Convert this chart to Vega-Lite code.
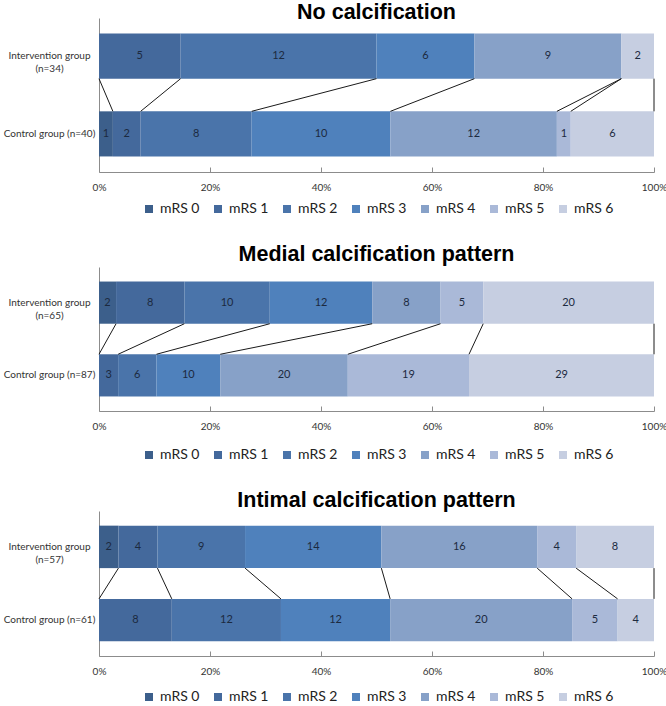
{
  "$schema": "https://vega.github.io/schema/vega-lite/v6.json",
  "padding": {"left": 0, "top": 1, "right": 0, "bottom": 0},
  "background": "white",
  "datasets": {
    "mrs": [
      {"panel": "No calcification", "group": "Intervention group (n=34)", "mrs": "mRS 0", "n": 0},
      {"panel": "No calcification", "group": "Intervention group (n=34)", "mrs": "mRS 1", "n": 5},
      {"panel": "No calcification", "group": "Intervention group (n=34)", "mrs": "mRS 2", "n": 12},
      {"panel": "No calcification", "group": "Intervention group (n=34)", "mrs": "mRS 3", "n": 6},
      {"panel": "No calcification", "group": "Intervention group (n=34)", "mrs": "mRS 4", "n": 9},
      {"panel": "No calcification", "group": "Intervention group (n=34)", "mrs": "mRS 5", "n": 0},
      {"panel": "No calcification", "group": "Intervention group (n=34)", "mrs": "mRS 6", "n": 2},
      {"panel": "No calcification", "group": "Control group (n=40)", "mrs": "mRS 0", "n": 1},
      {"panel": "No calcification", "group": "Control group (n=40)", "mrs": "mRS 1", "n": 2},
      {"panel": "No calcification", "group": "Control group (n=40)", "mrs": "mRS 2", "n": 8},
      {"panel": "No calcification", "group": "Control group (n=40)", "mrs": "mRS 3", "n": 10},
      {"panel": "No calcification", "group": "Control group (n=40)", "mrs": "mRS 4", "n": 12},
      {"panel": "No calcification", "group": "Control group (n=40)", "mrs": "mRS 5", "n": 1},
      {"panel": "No calcification", "group": "Control group (n=40)", "mrs": "mRS 6", "n": 6},
      {"panel": "Medial calcification pattern", "group": "Intervention group (n=65)", "mrs": "mRS 0", "n": 2},
      {"panel": "Medial calcification pattern", "group": "Intervention group (n=65)", "mrs": "mRS 1", "n": 8},
      {"panel": "Medial calcification pattern", "group": "Intervention group (n=65)", "mrs": "mRS 2", "n": 10},
      {"panel": "Medial calcification pattern", "group": "Intervention group (n=65)", "mrs": "mRS 3", "n": 12},
      {"panel": "Medial calcification pattern", "group": "Intervention group (n=65)", "mrs": "mRS 4", "n": 8},
      {"panel": "Medial calcification pattern", "group": "Intervention group (n=65)", "mrs": "mRS 5", "n": 5},
      {"panel": "Medial calcification pattern", "group": "Intervention group (n=65)", "mrs": "mRS 6", "n": 20},
      {"panel": "Medial calcification pattern", "group": "Control group (n=87)", "mrs": "mRS 0", "n": 0},
      {"panel": "Medial calcification pattern", "group": "Control group (n=87)", "mrs": "mRS 1", "n": 3},
      {"panel": "Medial calcification pattern", "group": "Control group (n=87)", "mrs": "mRS 2", "n": 6},
      {"panel": "Medial calcification pattern", "group": "Control group (n=87)", "mrs": "mRS 3", "n": 10},
      {"panel": "Medial calcification pattern", "group": "Control group (n=87)", "mrs": "mRS 4", "n": 20},
      {"panel": "Medial calcification pattern", "group": "Control group (n=87)", "mrs": "mRS 5", "n": 19},
      {"panel": "Medial calcification pattern", "group": "Control group (n=87)", "mrs": "mRS 6", "n": 29},
      {"panel": "Intimal calcification pattern", "group": "Intervention group (n=57)", "mrs": "mRS 0", "n": 2},
      {"panel": "Intimal calcification pattern", "group": "Intervention group (n=57)", "mrs": "mRS 1", "n": 4},
      {"panel": "Intimal calcification pattern", "group": "Intervention group (n=57)", "mrs": "mRS 2", "n": 9},
      {"panel": "Intimal calcification pattern", "group": "Intervention group (n=57)", "mrs": "mRS 3", "n": 14},
      {"panel": "Intimal calcification pattern", "group": "Intervention group (n=57)", "mrs": "mRS 4", "n": 16},
      {"panel": "Intimal calcification pattern", "group": "Intervention group (n=57)", "mrs": "mRS 5", "n": 4},
      {"panel": "Intimal calcification pattern", "group": "Intervention group (n=57)", "mrs": "mRS 6", "n": 8},
      {"panel": "Intimal calcification pattern", "group": "Control group (n=61)", "mrs": "mRS 0", "n": 0},
      {"panel": "Intimal calcification pattern", "group": "Control group (n=61)", "mrs": "mRS 1", "n": 8},
      {"panel": "Intimal calcification pattern", "group": "Control group (n=61)", "mrs": "mRS 2", "n": 12},
      {"panel": "Intimal calcification pattern", "group": "Control group (n=61)", "mrs": "mRS 3", "n": 12},
      {"panel": "Intimal calcification pattern", "group": "Control group (n=61)", "mrs": "mRS 4", "n": 20},
      {"panel": "Intimal calcification pattern", "group": "Control group (n=61)", "mrs": "mRS 5", "n": 5},
      {"panel": "Intimal calcification pattern", "group": "Control group (n=61)", "mrs": "mRS 6", "n": 4}
    ]
  },
  "spacing": 27,
  "resolve": {"legend": {"color": "independent"}},
  "vconcat": [
    {
      "data": {"name": "mrs"},
      "transform": [
        {"filter": "datum.panel == 'No calcification'"},
        {"stack": "n", "groupby": ["group"], "sort": [{"field": "mrs"}], "offset": "normalize", "as": ["x1", "x2"]}
      ],
      "title": {"text": "No calcification", "offset": -5},
      "width": 555,
      "height": 154,
      "encoding": {
        "y": {"field": "group", "type": "nominal", "title": null,
              "sort": ["Intervention group (n=34)", "Control group (n=40)"],
              "scale": {"paddingInner": 0.42, "paddingOuter": 0.2}}
      },
      "layer": [
        {
          "mark": {"type": "bar"},
          "encoding": {
            "x": {"field": "x1", "type": "quantitative", "title": null, "scale": {"domain": [0, 1]},
                  "axis": {"values": [0, 0.2, 0.4, 0.6, 0.8, 1]}},
            "x2": {"field": "x2"},
            "color": {"field": "mrs", "type": "nominal", "title": null,
              "legend": {"orient": "none", "legendX": 43, "legendY": 184}}
          }
        },
        {
          "transform": [{"filter": "datum.n > 0"}, {"calculate": "(datum.x1 + datum.x2) / 2", "as": "mid"}],
          "mark": {"type": "text"},
          "encoding": {
            "x": {"field": "mid", "type": "quantitative", "title": null},
            "text": {"field": "n", "type": "quantitative"}
          }
        },
        {
          "transform": [
            {"calculate": "indexof(datum.group, 'Intervention') == 0 ? 'I' : 'C'", "as": "arm"},
            {"pivot": "arm", "value": "x2", "groupby": ["mrs"]}
          ],
          "mark": {"type": "rule"},
          "encoding": {
            "x": {"field": "I", "type": "quantitative", "title": null},
            "x2": {"field": "C"},
            "y": {"datum": "Intervention group (n=34)", "type": "nominal", "bandPosition": 1},
            "y2": {"datum": "Control group (n=40)", "bandPosition": 0}
          }
        }
      ]
    },
    {
      "data": {"name": "mrs"},
      "transform": [
        {"filter": "datum.panel == 'Medial calcification pattern'"},
        {"stack": "n", "groupby": ["group"], "sort": [{"field": "mrs"}], "offset": "normalize", "as": ["x1", "x2"]}
      ],
      "title": {"text": "Medial calcification pattern", "offset": 2},
      "width": 555,
      "height": 144,
      "encoding": {
        "y": {"field": "group", "type": "nominal", "title": null,
              "sort": ["Intervention group (n=65)", "Control group (n=87)"],
              "scale": {"paddingInner": 0.42, "paddingOuter": 0.2}}
      },
      "layer": [
        {
          "mark": {"type": "bar"},
          "encoding": {
            "x": {"field": "x1", "type": "quantitative", "title": null, "scale": {"domain": [0, 1]},
                  "axis": {"values": [0, 0.2, 0.4, 0.6, 0.8, 1]}},
            "x2": {"field": "x2"},
            "color": {"field": "mrs", "type": "nominal", "title": null,
              "legend": {"orient": "none", "legendX": 43, "legendY": 181}}
          }
        },
        {
          "transform": [{"filter": "datum.n > 0"}, {"calculate": "(datum.x1 + datum.x2) / 2", "as": "mid"}],
          "mark": {"type": "text"},
          "encoding": {
            "x": {"field": "mid", "type": "quantitative", "title": null},
            "text": {"field": "n", "type": "quantitative"}
          }
        },
        {
          "transform": [
            {"calculate": "indexof(datum.group, 'Intervention') == 0 ? 'I' : 'C'", "as": "arm"},
            {"pivot": "arm", "value": "x2", "groupby": ["mrs"]}
          ],
          "mark": {"type": "rule"},
          "encoding": {
            "x": {"field": "I", "type": "quantitative", "title": null},
            "x2": {"field": "C"},
            "y": {"datum": "Intervention group (n=65)", "type": "nominal", "bandPosition": 1},
            "y2": {"datum": "Control group (n=87)", "bandPosition": 0}
          }
        }
      ]
    },
    {
      "data": {"name": "mrs"},
      "transform": [
        {"filter": "datum.panel == 'Intimal calcification pattern'"},
        {"stack": "n", "groupby": ["group"], "sort": [{"field": "mrs"}], "offset": "normalize", "as": ["x1", "x2"]}
      ],
      "title": {"text": "Intimal calcification pattern", "offset": 0},
      "width": 555,
      "height": 145,
      "encoding": {
        "y": {"field": "group", "type": "nominal", "title": null,
              "sort": ["Intervention group (n=57)", "Control group (n=61)"],
              "scale": {"paddingInner": 0.42, "paddingOuter": 0.2}}
      },
      "layer": [
        {
          "mark": {"type": "bar"},
          "encoding": {
            "x": {"field": "x1", "type": "quantitative", "title": null, "scale": {"domain": [0, 1]},
                  "axis": {"values": [0, 0.2, 0.4, 0.6, 0.8, 1]}},
            "x2": {"field": "x2"},
            "color": {"field": "mrs", "type": "nominal", "title": null,
              "legend": {"orient": "none", "legendX": 43, "legendY": 179}}
          }
        },
        {
          "transform": [{"filter": "datum.n > 0"}, {"calculate": "(datum.x1 + datum.x2) / 2", "as": "mid"}],
          "mark": {"type": "text"},
          "encoding": {
            "x": {"field": "mid", "type": "quantitative", "title": null},
            "text": {"field": "n", "type": "quantitative"}
          }
        },
        {
          "transform": [
            {"calculate": "indexof(datum.group, 'Intervention') == 0 ? 'I' : 'C'", "as": "arm"},
            {"pivot": "arm", "value": "x2", "groupby": ["mrs"]}
          ],
          "mark": {"type": "rule"},
          "encoding": {
            "x": {"field": "I", "type": "quantitative", "title": null},
            "x2": {"field": "C"},
            "y": {"datum": "Intervention group (n=57)", "type": "nominal", "bandPosition": 1},
            "y2": {"datum": "Control group (n=61)", "bandPosition": 0}
          }
        }
      ]
    }
  ],
  "config": {
    "view": {"stroke": null},
    "font": "Lato",
    "title": {"font": "Liberation Sans", "fontSize": 21.5, "fontWeight": "bold", "color": "#000000", "anchor": "middle", "baseline": "alphabetic"},
    "bar": {"stroke": null},
    "text": {"font": "Lato", "fontSize": 11, "color": "#1c2a3f", "baseline": "middle", "align": "center"},
    "rule": {"color": "#1a1a1a", "strokeWidth": 1},
    "range": {"category": ["#3C5F8B", "#44699C", "#4A74AA", "#4F81BC", "#87A1C8", "#AAB9D8", "#C6CEE1"]},
    "axisX": {
      "grid": false,
      "format": "%",
      "labelFont": "Lato",
      "labelFontSize": 10,
      "labelColor": "#333333",
      "domainColor": "#8c8c8c",
      "tickColor": "#8c8c8c",
      "tickSize": -5,
      "labelPadding": 15,
      "labelFlush": false
    },
    "axisY": {
      "grid": false,
      "ticks": false,
      "domainColor": "#8c8c8c",
      "labelFont": "Lato",
      "labelFontSize": 10,
      "labelColor": "#333333",
      "labelAlign": "center",
      "labelBaseline": "middle",
      "labelPadding": 50,
      "labelLineHeight": 13,
      "labelLimit": 200,
      "minExtent": 99,
      "maxExtent": 99,
      "labelExpr": "indexof(datum.label, 'Intervention') == 0 ? ['Intervention group', slice(datum.label, 19)] : datum.label"
    },
    "legend": {
      "direction": "horizontal",
      "symbolType": "square",
      "symbolSize": 64,
      "symbolStrokeWidth": 0,
      "labelFont": "Lato",
      "labelFontSize": 14,
      "labelColor": "#222222",
      "labelOffset": 4,
      "columnPadding": 11,
      "padding": 0
    }
  }
}
